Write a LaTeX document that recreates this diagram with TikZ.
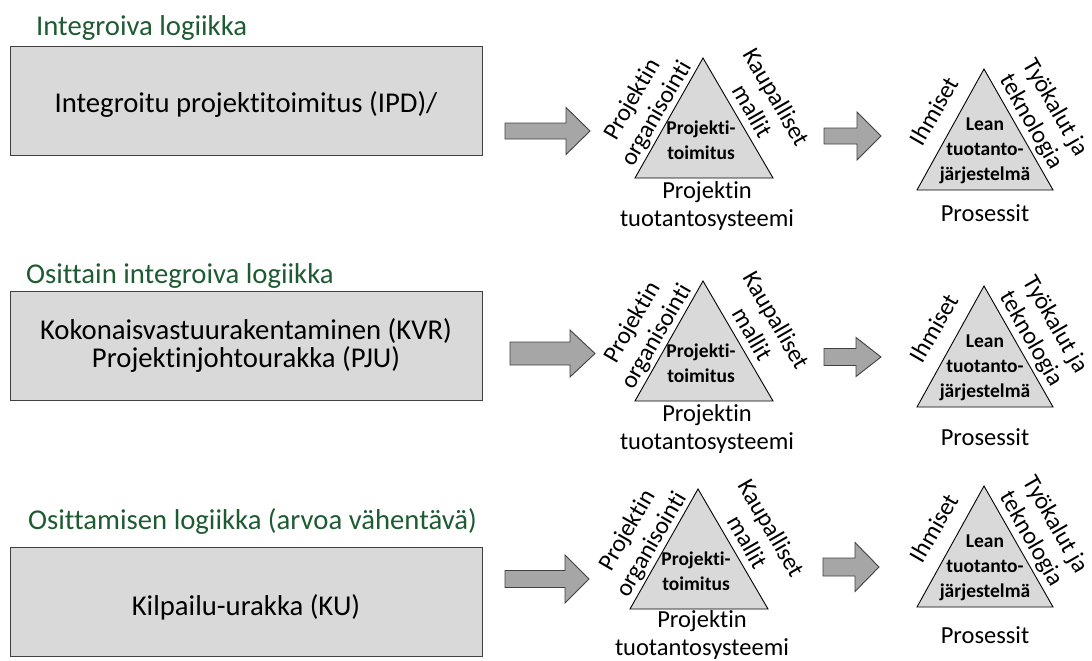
\documentclass[tikz,border=0pt]{standalone}
\usepackage{fontspec}
\setmainfont{Carlito}[Ligatures=NoCommon]
\definecolor{boxfill}{HTML}{D9D9D9}
\definecolor{boxline}{HTML}{404040}
\definecolor{arrowfill}{HTML}{A6A6A6}
\definecolor{titlegreen}{HTML}{1E5A32}

\tikzset{
  rowtitle/.style={anchor=base west, inner sep=0pt, text=titlegreen, font=\fontsize{28.7}{30}\selectfont},
  boxtext/.style={anchor=base, inner sep=0pt, font=\fontsize{28.7}{30}\selectfont},
  catbox/.style={fill=boxfill, draw=boxline, line width=1.2pt, anchor=north west,
    minimum width=472pt, minimum height=109pt, inner sep=0pt},
  tri/.style={fill=boxfill, draw=black, line width=0.9pt, line join=miter},
  blockarrow/.style={fill=arrowfill, draw=boxline, line width=0.9pt, line join=miter},
  side/.style={inner sep=0pt, align=center, font=\fontsize{24.5}{28}\selectfont},
  core/.style={inner sep=0pt, align=center, font=\bfseries\fontsize{19.5}{25}\selectfont},
}

% block arrow: body start, head start, tip, centre y, body half height, head half height
\newcommand\flowarrow[6]{%
  \draw[blockarrow] (#1,#4-#5) -- (#2,#4-#5) -- (#2,#4-#6) -- (#3,#4)
    -- (#2,#4+#6) -- (#2,#4+#5) -- (#1,#4+#5) -- cycle;}

% project delivery triangle, apex at (#2,#3), bottom label offset #4
\newcommand\projtri[4]{%
  \coordinate (#1-apex) at (#2,#3);
  \coordinate (#1-left) at (#2-68,#3+120);
  \coordinate (#1-right) at (#2+70,#3+120);
  \draw[tri] (#1-apex) -- (#1-right) -- (#1-left) -- cycle;
  \node[core] (#1-core) at (#2-2,#3+82) {Projekti-\\toimitus};
  \node[side, rotate=60] (#1-org) at (#2-58,#3+49) {Projektin\\organisointi};
  \node[side, rotate=-60] (#1-com) at (#2+62,#3+46) {Kaupalliset\\mallit};
  \node[side] (#1-prod) at (#2+4,#3+#4) {Projektin\\tuotantosysteemi};
}

% lean production system triangle, apex at (#2,#3), process label offset #4
\newcommand\leantri[4]{%
  \coordinate (#1-apex) at (#2,#3);
  \coordinate (#1-left) at (#2-67,#3+121);
  \coordinate (#1-right) at (#2+69,#3+121);
  \draw[tri] (#1-apex) -- (#1-right) -- (#1-left) -- cycle;
  \node[core] (#1-core) at (#2+1,#3+82) {Lean\\tuotanto-\\järjestelmä};
  \node[side, rotate=60] (#1-people) at (#2-50,#3+42) {Ihmiset};
  \node[side, rotate=-60] (#1-tools) at (#2+59,#3+46) {Työkalut ja\\teknologia};
  \node[side] (#1-proc) at (#2+1,#3+#4) {Prosessit};
}

\begin{document}
\begin{tikzpicture}[x=1pt,y=-1pt]
\useasboundingbox (0,0) rectangle (1092,661);

% row 1
\node[rowtitle] (t1) at (36,36) {Integroiva logiikka};
\node[catbox] (b1) at (10,46) {};
\node[boxtext] (b1-text) at (246,112) {Integroitu projektitoimitus (IPD)/};
\flowarrow{505}{566}{590}{131}{8}{23.5}
\projtri{p1}{703}{58}{148}
\flowarrow{824}{857}{881}{136}{8}{24}
\leantri{l1}{984}{69}{144}

% row 2
\node[rowtitle] (t2) at (26,283) {Osittain integroiva logiikka};
\node[catbox] (b2) at (10,291) {};
\node[boxtext] (b2-text1) at (246,339) {Kokonaisvastuurakentaminen (KVR)};
\node[boxtext] (b2-text2) at (246,367) {Projektinjohtourakka (PJU)};
\flowarrow{510}{570}{595}{353.5}{11.5}{23.5}
\projtri{p2}{703}{281}{148}
\flowarrow{824}{856}{881}{357}{8.5}{19.5}
\leantri{l2}{984}{286}{151}

% row 3
\node[rowtitle] (t3) at (28,529) {Osittamisen logiikka (arvoa vähentävä)};
\node[catbox] (b3) at (10,547) {};
\node[boxtext] (b3-text) at (246,615) {Kilpailu-urakka (KU)};
\flowarrow{505}{565}{589}{579}{8.5}{24}
\projtri{p3}{698}{489}{146}
\flowarrow{823}{855}{879}{567}{9}{24.5}
\leantri{l3}{984}{486}{149}
\end{tikzpicture}
\end{document}
